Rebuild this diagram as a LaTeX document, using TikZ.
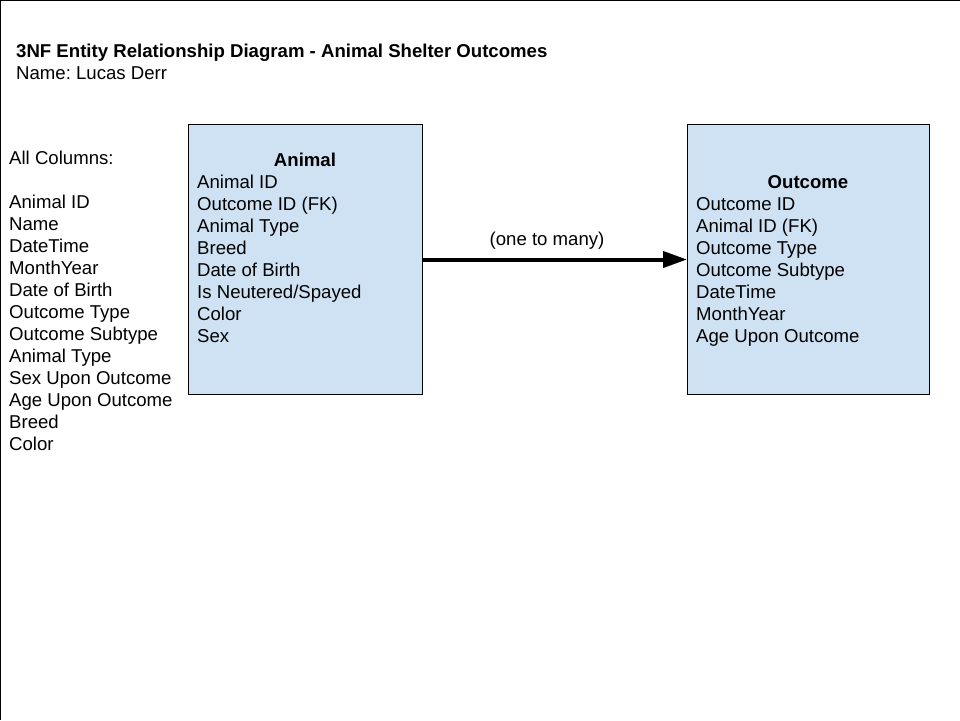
\documentclass[tikz,border=0pt]{standalone}
\usepackage{fontspec}
\setmainfont{Liberation Sans}
\usetikzlibrary{arrows.meta}
\definecolor{boxblue}{HTML}{CFE2F3}
\frenchspacing
\begin{document}
\begin{tikzpicture}[x=1pt,y=-1pt,
  txt/.style={anchor=base west,inner sep=0pt,font=\fontsize{18.6}{22}\selectfont},
  ttl/.style={anchor=base,inner sep=0pt,font=\fontsize{18.6}{22}\selectfont\bfseries},
  entity/.style={draw=black,line width=1pt,fill=boxblue,minimum width=#1,minimum height=270pt,inner sep=0pt,anchor=north west}]
\useasboundingbox (0,0) rectangle (960,720);
\draw[line width=1.5pt] (0,720) -- (0,0) -- (960,0);
\node[txt,font=\fontsize{18.6}{22}\selectfont\bfseries] (title) at (16,57) {3NF Entity Relationship Diagram - Animal Shelter Outcomes};
\node[txt] (name) at (16,79) {Name: Lucas Derr};
\node[txt] (allcols) at (9,164) {All Columns:};
\foreach \t [count=\i] in {Animal ID,Name,DateTime,MonthYear,Date of Birth,Outcome Type,Outcome Subtype,Animal Type,Sex Upon Outcome,Age Upon Outcome,Breed,Color}
  \node[txt] (c\i) at (9,{208+22*(\i-1)}) {\t};
\node[entity=234pt] (animal) at (188,124) {};
\node[ttl] (animalttl) at (305,166) {Animal};
\foreach \t [count=\i] in {Animal ID,Outcome ID (FK),Animal Type,Breed,Date of Birth,Is Neutered/Spayed,Color,Sex}
  \node[txt] (a\i) at (197,{188+22*(\i-1)}) {\t};
\node[entity=242pt] (outcome) at (687,124) {};
\node[ttl] (outcomettl) at (808,188) {Outcome};
\foreach \t [count=\i] in {Outcome ID,Animal ID (FK),Outcome Type,Outcome Subtype,DateTime,MonthYear,Age Upon Outcome}
  \node[txt] (o\i) at (696,{210+22*(\i-1)}) {\t};
\draw[line width=4pt,-{Triangle[length=24pt,width=16pt]}] (animal.east) -- (outcome.west);
\node[txt,anchor=base] (rel) at (547,245) {(one to many)};
\end{tikzpicture}
\end{document}
